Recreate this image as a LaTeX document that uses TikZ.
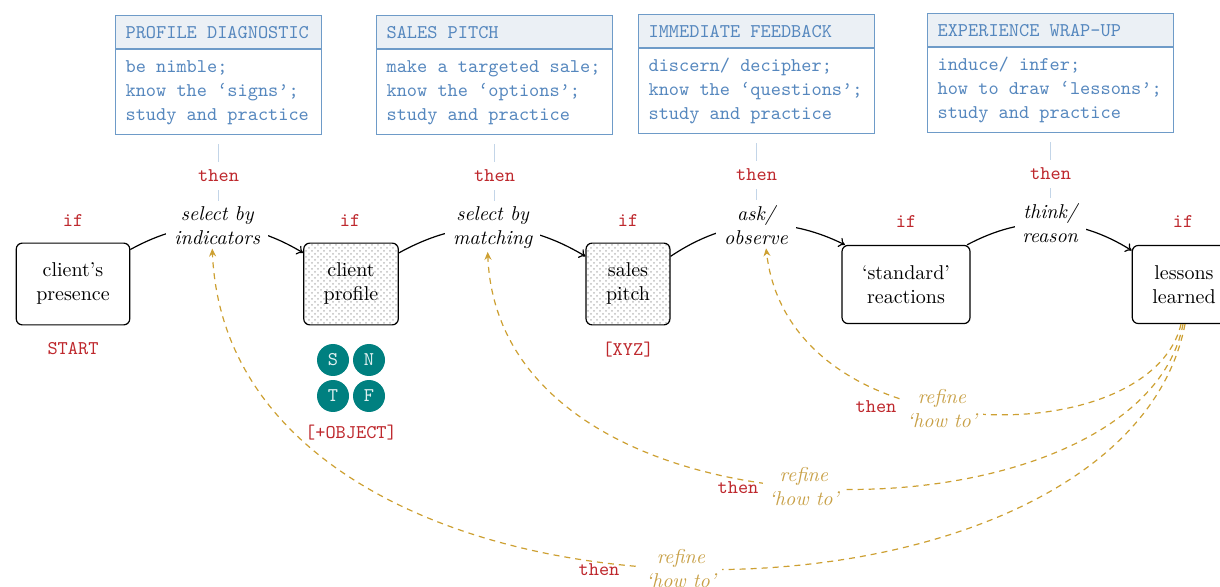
\documentclass[tikz,border=0pt]{standalone}
\usetikzlibrary{arrows.meta,patterns}
\definecolor{boxblue}{RGB}{110,155,200}
\definecolor{hdrfill}{RGB}{235,240,245}
\definecolor{txtblue}{RGB}{85,135,190}
\definecolor{linkblue}{RGB}{195,213,232}
\definecolor{ifred}{RGB}{190,40,45}
\definecolor{tealc}{RGB}{0,128,128}
\definecolor{goldl}{RGB}{205,160,50}
\definecolor{goldtxt}{RGB}{200,160,70}
\newcommand\mytt{\fontsize{9.7pt}{12pt}\selectfont\ttfamily}
\newcommand\myttspace{\spaceskip=\fontcharwd\font`x\relax\xspaceskip=\spaceskip}
\begin{document}
\begin{tikzpicture}[x=0.5pt,y=-0.5pt,
  state/.style={draw, rounded corners=3pt, inner sep=10pt, align=center, line width=0.6pt},
  dotty/.style={pattern=crosshatch dots, pattern color=gray!50},
  flow/.style={-{To[length=3pt,width=5pt]}, line width=0.6pt},
  lbl/.style={fill=white, font=\itshape, align=center, inner xsep=4pt, inner ysep=1.5pt},
  hdr/.style={draw=boxblue, fill=hdrfill, text=txtblue, font=\mytt, execute at begin node=\myttspace, inner xsep=5pt, minimum height=16.5pt, align=left, anchor=north west, line width=0.6pt},
  bodyb/.style={draw=boxblue, fill=white, text=txtblue, font=\mytt, execute at begin node=\myttspace, inner xsep=5pt, minimum height=42.5pt, align=left, anchor=north west, line width=0.6pt},
  vline/.style={draw=linkblue, line width=0.8pt, shorten <=4.5pt, shorten >=1pt},
  redl/.style={text=ifred, font=\mytt},
  thenv/.style={redl, fill=white, inner xsep=2pt, inner ysep=4pt, pos=0.6},
  circ/.style={circle, fill=tealc, text=white!88!tealc, font=\mytt, minimum size=16pt, inner sep=0pt},
  fb/.style={draw=goldl, line width=0.6pt, dash pattern=on 3pt off 2.5pt, -{Stealth[length=4pt,width=3.5pt]}},
  refine/.style={fill=white, text=goldtxt, font=\itshape, align=center, inner xsep=3pt, inner ysep=1pt}
]
\clip (0,0) rectangle (1220,587);

% main states
\node[state] (pres) at (73,284) {client’s\\presence};
\node[state,dotty] (prof) at (351,284) {client\\profile};
\node[state,dotty] (pitch) at (628,284) {sales\\pitch};
\node[state] (std) at (906,284.5) {‘standard’\\reactions};
\node[state] (les) at (1184,284.5) {lessons\\learned};

% flow connectors with transition labels
\draw[flow] (pres.31) to[bend left=30] node[lbl] (sel1) {select by\\indicators} (prof.147);
\draw[flow] (prof.33) to[bend left=30] node[lbl] (sel2) {select by\\matching} (pitch.147);
\draw[flow] (pitch.33) to[bend left=30] node[lbl] (obs) {ask/\\observe} (std.147);
\draw[flow] (std.33) to[bend left=30] node[lbl] (rsn) {think/\\reason} (les.147);

% top boxes
\node[hdr, text width=93pt] (h1) at (115,15) {PROFILE DIAGNOSTIC};
\node[bodyb, text width=93pt] (b1) at (h1.south west) {be nimble;\\know the ‘signs’;\\study and practice};
\node[hdr, text width=108pt] (h2) at (376,15) {SALES PITCH};
\node[bodyb, text width=108pt] (b2) at (h2.south west) {make a targeted sale;\\know the ‘options’;\\study and practice};
\node[hdr, text width=108pt] (h3) at (638,14) {IMMEDIATE FEEDBACK};
\node[bodyb, text width=108pt] (b3) at (h3.south west) {discern/ decipher;\\know the ‘questions’;\\study and practice};
\node[hdr, text width=113pt] (h4) at (927,13) {EXPERIENCE WRAP-UP};
\node[bodyb, text width=113pt] (b4) at (h4.south west) {induce/ infer;\\how to draw ‘lessons’;\\study and practice};

% then links
\draw[vline] (b1.south) -- node[thenv] (t1) {then} (b1.south |- sel1.north);
\draw[vline] (b2.south) -- node[thenv] (t2) {then} (b2.south |- sel2.north);
\draw[vline] (b3.south) -- node[thenv] (t3) {then} (b3.south |- obs.north);
\draw[vline] (b4.south) -- node[thenv] (t4) {then} (b4.south |- rsn.north);

% if labels
\node[redl] (if1) at (73,221) {if};
\node[redl] (if2) at (350,221) {if};
\node[redl] (if3) at (628,221) {if};
\node[redl] (if4) at (906,222) {if};
\node[redl] (if5) at (1183,222) {if};

\node[redl] (start) at (73,349) {START};
\node[redl] (xyz) at (628,350) {[XYZ]};
\node[redl] (obj) at (351,433) {[+OBJECT]};

% type circles
\node[circ] (cs) at (333,360) {S};
\node[circ] (cn) at (369,360) {N};
\node[circ] (ct) at (333,396) {T};
\node[circ] (cf) at (369,396) {F};

% feedback loops
\draw[fb] ([xshift=-1.5pt]les.south) .. controls (1150,455) and (790,455) .. ([xshift=5pt]obs.south)
  node[refine, pos=0.55] (r1) {refine\\‘how to’};
\draw[fb] ([xshift=-0.5pt]les.south) .. controls (1140,550) and (500,560) .. ([xshift=-2.5pt]sel2.south)
  node[refine, pos=0.52] (r2) {refine\\‘how to’};
\draw[fb] ([xshift=0.5pt]les.south) .. controls (1120,660) and (230,665) .. ([xshift=-2.5pt]sel1.south)
  node[refine, pos=0.5] (r3) {refine\\‘how to’};

\node[redl] (tr1) at (876,407) {then};
\node[redl] (tr2) at (738,488) {then};
\node[redl] (tr3) at (599,570) {then};
\end{tikzpicture}
\end{document}
